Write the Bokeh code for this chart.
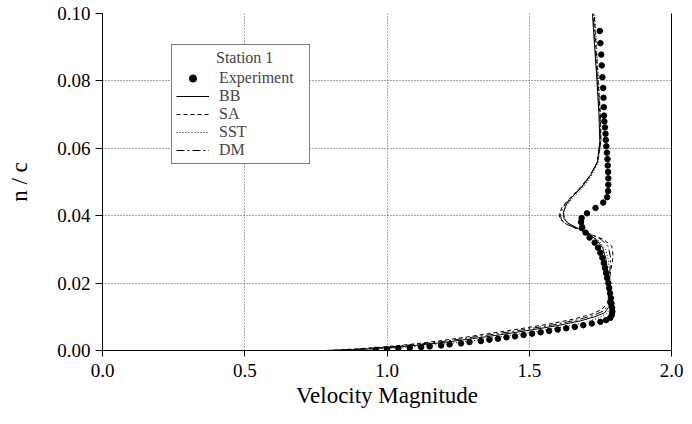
from bokeh.plotting import figure
from bokeh.models import LinearAxis, FixedTicker, Legend, LegendItem, Range1d
from bokeh.embed import file_html
from bokeh.resources import INLINE

# ---- data ----
exp_x = [0.96, 1.00, 1.04, 1.08, 1.12, 1.15, 1.19, 1.22, 1.26, 1.29, 1.33, 1.36, 1.39, 1.42,
         1.45, 1.48, 1.51, 1.54, 1.57, 1.60, 1.63, 1.66, 1.69, 1.72, 1.75, 1.77, 1.785, 1.790,
         1.792, 1.791, 1.789, 1.787, 1.784, 1.781, 1.778, 1.774, 1.770, 1.766, 1.762, 1.757,
         1.750, 1.742, 1.730, 1.712, 1.698, 1.686, 1.682, 1.684, 1.703, 1.733, 1.760, 1.774,
         1.777, 1.778, 1.778, 1.777, 1.776, 1.775, 1.773, 1.771, 1.769, 1.768, 1.766, 1.764,
         1.763, 1.762, 1.761, 1.760, 1.757, 1.755, 1.753, 1.750, 1.748]
exp_y = [0.0002, 0.0004, 0.0006, 0.0008, 0.0010, 0.0012, 0.0015, 0.0018, 0.0021, 0.0025,
         0.0028, 0.0032, 0.0035, 0.0039, 0.0042, 0.0046, 0.0050, 0.0054, 0.0058, 0.0062,
         0.0066, 0.0070, 0.0075, 0.0080, 0.0085, 0.0090, 0.0097, 0.0105, 0.0115, 0.0127,
         0.0140, 0.0155, 0.0170, 0.0185, 0.0200, 0.0215, 0.0230, 0.0245, 0.0260, 0.0275,
         0.0290, 0.0305, 0.0320, 0.0335, 0.0350, 0.0366, 0.0381, 0.0393, 0.0407, 0.0423,
         0.0439, 0.0455, 0.0473, 0.0492, 0.0511, 0.0530, 0.0549, 0.0568, 0.0587, 0.0606,
         0.0625, 0.0643, 0.0662, 0.0680, 0.0697, 0.0722, 0.0750, 0.0779, 0.0811, 0.0846,
         0.0878, 0.0912, 0.0948]

bb_x = [0.0, 0.80, 0.90, 1.00, 1.10, 1.20, 1.30, 1.40, 1.50, 1.60, 1.68, 1.73, 1.765, 1.780,
        1.782, 1.778, 1.770, 1.758, 1.735, 1.700, 1.665, 1.635, 1.622, 1.620, 1.628, 1.650,
        1.685, 1.715, 1.740, 1.748, 1.745, 1.738, 1.730, 1.722]
bb_y = [0.0, 0.0, 0.0003, 0.0008, 0.0015, 0.0024, 0.0035, 0.0047, 0.0060, 0.0074, 0.0088,
        0.0100, 0.0112, 0.0130, 0.0170, 0.0220, 0.0270, 0.0305, 0.0330, 0.0350, 0.0365,
        0.0378, 0.0392, 0.0410, 0.0430, 0.0455, 0.0485, 0.0520, 0.0560, 0.0620, 0.0700,
        0.0800, 0.0900, 0.1000]

sa_x = [0.0, 0.78, 0.88, 0.98, 1.08, 1.18, 1.28, 1.38, 1.48, 1.58, 1.66, 1.72, 1.755, 1.775,
        1.780, 1.785, 1.795, 1.790, 1.760, 1.715, 1.670, 1.630, 1.608, 1.605, 1.615, 1.640,
        1.675, 1.710, 1.738, 1.752, 1.750, 1.742, 1.735, 1.728]
sa_y = [0.0, 0.0, 0.0004, 0.0010, 0.0018, 0.0028, 0.0040, 0.0053, 0.0066, 0.0080, 0.0094,
        0.0108, 0.0122, 0.0140, 0.0180, 0.0230, 0.0280, 0.0310, 0.0330, 0.0345, 0.0360,
        0.0375, 0.0390, 0.0405, 0.0425, 0.0450, 0.0480, 0.0515, 0.0555, 0.0620, 0.0700,
        0.0800, 0.0900, 0.1000]

sst_x = [0.0, 0.82, 0.92, 1.02, 1.12, 1.22, 1.32, 1.42, 1.52, 1.62, 1.70, 1.745, 1.772, 1.785,
         1.786, 1.782, 1.778, 1.768, 1.745, 1.708, 1.672, 1.640, 1.625, 1.622, 1.630, 1.652,
         1.688, 1.718, 1.742, 1.752, 1.750, 1.744, 1.737, 1.730]
sst_y = [0.0, 0.0, 0.0003, 0.0007, 0.0013, 0.0021, 0.0031, 0.0043, 0.0056, 0.0070, 0.0084,
         0.0097, 0.0110, 0.0125, 0.0170, 0.0220, 0.0270, 0.0300, 0.0325, 0.0345, 0.0362,
         0.0376, 0.0390, 0.0408, 0.0428, 0.0452, 0.0482, 0.0518, 0.0558, 0.0620, 0.0700,
         0.0800, 0.0900, 0.1000]

dm_x = [0.0, 0.79, 0.89, 0.99, 1.09, 1.19, 1.29, 1.39, 1.49, 1.59, 1.67, 1.725, 1.760, 1.778,
        1.783, 1.783, 1.786, 1.778, 1.752, 1.712, 1.668, 1.628, 1.612, 1.610, 1.620, 1.645,
        1.680, 1.712, 1.738, 1.750, 1.748, 1.740, 1.732, 1.725]
dm_y = [0.0, 0.0, 0.0004, 0.0009, 0.0017, 0.0026, 0.0038, 0.0050, 0.0063, 0.0077, 0.0091,
        0.0104, 0.0117, 0.0135, 0.0175, 0.0225, 0.0275, 0.0308, 0.0330, 0.0347, 0.0362,
        0.0376, 0.0390, 0.0406, 0.0427, 0.0452, 0.0482, 0.0517, 0.0557, 0.0620, 0.0700,
        0.0800, 0.0900, 0.1000]

x_ticks = [0.0, 0.5, 1.0, 1.5, 2.0]
y_ticks = [0.0, 0.02, 0.04, 0.06, 0.08, 0.10]
x_tick_labels = ["0.0", "0.5", "1.0", "1.5", "2.0"]
y_tick_labels = ["0.00", "0.02", "0.04", "0.06", "0.08", "0.10"]

FONT = "Liberation Serif"

p = figure(width=684, height=416, output_backend="svg", toolbar_location=None,
           x_range=Range1d(0, 2.0), y_range=Range1d(0, 0.1),
           min_border_left=102, min_border_right=13, min_border_top=13, min_border_bottom=66)
p.outline_line_color = None
p.background_fill_color = "white"

r_bb = p.line(bb_x, bb_y, line_color="black", line_width=1)
r_sa = p.line(sa_x, sa_y, line_color="black", line_width=1, line_dash="4 3")
r_sst = p.line(sst_x, sst_y, line_color="black", line_width=1, line_dash="1 2")
r_dm = p.line(dm_x, dm_y, line_color="black", line_width=1, line_dash="8 3 2 3")
r_exp = p.scatter(exp_x, exp_y, size=5.5, color="black")

# axes
for ax, ticks, labels in ((p.xaxis[0], x_ticks, x_tick_labels), (p.yaxis[0], y_ticks, y_tick_labels)):
    ax.ticker = FixedTicker(ticks=ticks)
    ax.major_label_overrides = {t: l for t, l in zip(ticks, labels)}
    ax.major_label_text_font = FONT
    ax.major_label_text_font_size = "19px"
    ax.major_label_text_color = "black"
    ax.axis_label_text_font = FONT
    ax.axis_label_text_font_size = "23px"
    ax.axis_label_text_font_style = "normal"
    ax.axis_label_text_color = "black"
    ax.axis_line_color = "black"
    ax.major_tick_line_color = "black"
    ax.major_tick_in = 0
    ax.minor_tick_line_color = None

p.xaxis.axis_label = "Velocity Magnitude"
p.yaxis.axis_label = "n / c"
p.xaxis.major_tick_out = 6
p.yaxis.major_tick_out = 7
p.xaxis.major_label_standoff = 7
p.yaxis.major_label_standoff = 5
p.xaxis.axis_label_standoff = 3
p.yaxis.axis_label_standoff = 22

right = LinearAxis(ticker=FixedTicker(ticks=[]), major_tick_line_color=None,
                   minor_tick_line_color=None, axis_line_color="black")
p.add_layout(right, "right")

p.xgrid.ticker = FixedTicker(ticks=x_ticks)
p.ygrid.ticker = FixedTicker(ticks=y_ticks)
for g in (p.xgrid[0], p.ygrid[0]):
    g.grid_line_color = "#555555"
    g.grid_line_dash = "1 2"
    g.grid_line_width = 1

legend = Legend(items=[
    LegendItem(label="Experiment", renderers=[r_exp]),
    LegendItem(label="BB", renderers=[r_bb]),
    LegendItem(label="SA", renderers=[r_sa]),
    LegendItem(label="SST", renderers=[r_sst]),
    LegendItem(label="DM", renderers=[r_dm]),
], location=(69, 186))
legend.title = "\u00a0" * 10 + "Station 1"
legend.title_text_font = FONT
legend.title_text_font_size = "16px"
legend.title_text_font_style = "normal"
legend.title_standoff = 2
legend.label_text_font = FONT
legend.label_text_font_size = "16px"
legend.label_height = 18
legend.glyph_height = 18
legend.glyph_width = 33
legend.label_width = 86
legend.label_standoff = 10
legend.spacing = 0
legend.padding = 4
legend.margin = 0
legend.border_line_color = "black"
legend.border_line_width = 1
legend.background_fill_alpha = 1
p.add_layout(legend)

open("out.html", "w").write(file_html(p, INLINE))
